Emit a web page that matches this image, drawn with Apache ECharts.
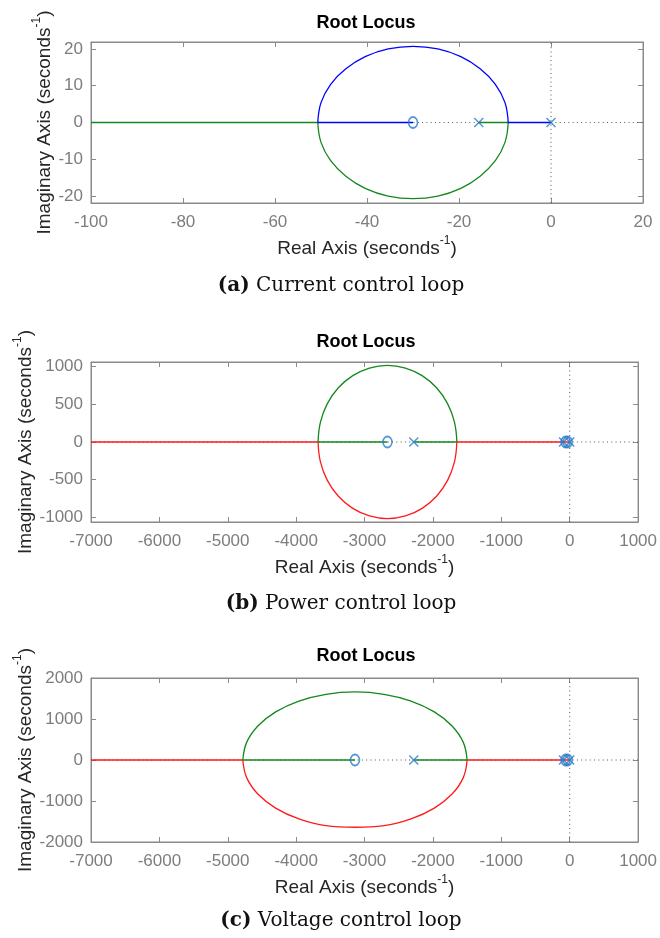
<!DOCTYPE html>
<html>
<head>
<meta charset="utf-8">
<title>Root Locus</title>
<script src="https://cdn.jsdelivr.net/npm/echarts@6/dist/echarts.min.js"></script>
<style>
    html, body { margin: 0; padding: 0; background: #fff; }
    #chart { width: 660px; height: 938px; }
</style>
</head>
<body>
<div id="chart"></div>
<script>
// ---- (a) current control loop ----
var xTicksA = [-100, -80, -60, -40, -20, 0, 20];
var yTicksA = [-20, -10, 0, 10, 20];
var polesA = [[0, 0], [-15.7, 0]];
var zerosA = [[-30, 0]];
var blueRealA = [[0, 0], [-9.3, 0]];
var blueArcA = [[-9.3, 0], [-10.0, 5.4], [-12.1, 10.4], [-15.4, 14.6], [-19.6, 17.9], [-24.6, 20.0], [-30, 20.7],
    [-35.4, 20.0], [-40.4, 17.9], [-44.6, 14.6], [-47.9, 10.4], [-50.0, 5.4], [-50.7, 0]];
var blueTailA = [[-50.7, 0], [-30, 0]];
var greenRealA = [[-15.7, 0], [-9.3, 0]];
var greenArcA = [[-9.3, 0], [-10.0, -5.4], [-12.1, -10.4], [-15.4, -14.6], [-19.6, -17.9], [-24.6, -20.0], [-30, -20.7],
    [-35.4, -20.0], [-40.4, -17.9], [-44.6, -14.6], [-47.9, -10.4], [-50.0, -5.4], [-50.7, 0]];
var greenTailA = [[-50.7, 0], [-100, 0]];

// ---- (b) power control loop ----
var xTicksB = [-7000, -6000, -5000, -4000, -3000, -2000, -1000, 0, 1000];
var yTicksB = [-1000, -500, 0, 500, 1000];
var polesB = [[0, 0], [-90, 0], [-2280, 0]];
var zerosB = [[-30, 0], [-60, 0], [-2665, 0]];
var greenRealB = [[-2280, 0], [-1650, 0]];
var greenArcB = [[-1650, 0], [-1685, 263], [-1786, 508], [-1947, 718], [-2158, 879], [-2402, 980], [-2665, 1015],
    [-2928, 980], [-3172, 879], [-3383, 718], [-3544, 508], [-3645, 263], [-3680, 0]];
var greenTailB = [[-3680, 0], [-2665, 0]];
var redRealB = [[0, 0], [-1650, 0]];
var redArcB = [[-1650, 0], [-1685, -263], [-1786, -508], [-1947, -718], [-2158, -879], [-2402, -980], [-2665, -1015],
    [-2928, -980], [-3172, -879], [-3383, -718], [-3544, -508], [-3645, -263], [-3680, 0]];
var redTailB = [[-3680, 0], [-7000, 0]];

// ---- (c) voltage control loop ----
var xTicksC = [-7000, -6000, -5000, -4000, -3000, -2000, -1000, 0, 1000];
var yTicksC = [-2000, -1000, 0, 1000, 2000];
var polesC = [[0, 0], [-90, 0], [-2280, 0]];
var zerosC = [[-30, 0], [-60, 0], [-3140, 0]];
var greenRealC = [[-2280, 0], [-1500, 0]];
var greenArcC = [[-1500, 0], [-1556, 430], [-1720, 830], [-1980, 1174], [-2320, 1438], [-2716, 1603], [-3140, 1660],
    [-3564, 1603], [-3960, 1438], [-4300, 1174], [-4560, 830], [-4724, 430], [-4780, 0]];
var greenTailC = [[-4780, 0], [-3140, 0]];
var redRealC = [[0, 0], [-1500, 0]];
var redArcC = [[-1500, 0], [-1556, -430], [-1720, -830], [-1980, -1174], [-2320, -1438], [-2716, -1603], [-3140, -1640],
    [-3564, -1603], [-3960, -1438], [-4300, -1174], [-4560, -830], [-4724, -430], [-4780, 0]];
var redTailC = [[-4780, 0], [-7000, 0]];

var FONT = '"Liberation Sans", Arial, Helvetica, sans-serif';
var SERIF = '"DejaVu Serif", Georgia, serif';
var BLUE = '#0000ff', GREEN = '#13881b', RED = '#ff1a1a', MARK = '#2a7cc9';
var FRAME = '#8a8a8a';

var panels = [
    {
        top: 42, height: 161, xMin: -100, xMax: 20, xStep: 20, xTicks: xTicksA,
        yMin: -21.9, yMax: 21.9, yStep: 10, yTicks: yTicksA, yNameGap: 33,
        poles: polesA, zeros: zerosA,
        lines: [
            [greenTailA, GREEN, false], [greenRealA, GREEN, false], [greenArcA, GREEN, true],
            [blueTailA, BLUE, false], [blueRealA, BLUE, false], [blueArcA, BLUE, true]
        ],
        title: 23, caption: 286, tag: '(a)', text: ' Current control loop'
    },
    {
        top: 362, height: 160, xMin: -7000, xMax: 1000, xStep: 1000, xTicks: xTicksB,
        yMin: -1060, yMax: 1060, yStep: 500, yTicks: yTicksB, yNameGap: 52,
        poles: polesB, zeros: zerosB,
        lines: [
            [redTailB, RED, false], [redRealB, RED, false], [redArcB, RED, true],
            [greenTailB, GREEN, false], [greenRealB, GREEN, false], [greenArcB, GREEN, true]
        ],
        title: 342, caption: 604, tag: '(b)', text: ' Power control loop'
    },
    {
        top: 678, height: 164, xMin: -7000, xMax: 1000, xStep: 1000, xTicks: xTicksC,
        yMin: -2000, yMax: 2000, yStep: 1000, yTicks: yTicksC, yNameGap: 52,
        poles: polesC, zeros: zerosC,
        lines: [
            [redTailC, RED, false], [redRealC, RED, false], [redArcC, RED, true],
            [greenTailC, GREEN, false], [greenRealC, GREEN, false], [greenArcC, GREEN, true]
        ],
        title: 656, caption: 921, tag: '(c)', text: ' Voltage control loop'
    }
];

var nameRich = {
    t: { fontFamily: FONT, fontSize: 19, color: '#262626', lineHeight: 27 },
    s: { fontFamily: FONT, fontSize: 12, color: '#262626', lineHeight: 12, verticalAlign: 'top' }
};

function tickFormatter(ticks) {
    return function (v) {
        for (var i = 0; i < ticks.length; i++) {
            if (Math.abs(ticks[i] - v) < 1e-6) return String(ticks[i]);
        }
        return '';
    };
}

function valueAxis(p, gi, dim, position, withLabel) {
    var isX = dim === 'x';
    var ax = {
        type: 'value',
        gridIndex: gi,
        position: position,
        min: isX ? p.xMin : p.yMin,
        max: isX ? p.xMax : p.yMax,
        axisLine: { show: true, onZero: false, lineStyle: { color: FRAME, width: 1 } },
        axisTick: { show: true, inside: true, length: 5, lineStyle: { color: FRAME } },
        splitLine: { show: false },
        axisLabel: {
            show: withLabel,
            margin: isX ? 11 : 8,
            color: '#7d7d7d',
            fontFamily: FONT,
            fontSize: 17,
            formatter: tickFormatter(isX ? p.xTicks : p.yTicks)
        }
    };
    var step = isX ? p.xStep : p.yStep;
    var min = isX ? p.xMin : p.yMin;
    if (Math.abs(min / step - Math.round(min / step)) < 1e-9) {
        ax.interval = step;
    } else {
        ax.minInterval = step;
        ax.maxInterval = step;
    }
    if (withLabel) {
        ax.nameLocation = 'middle';
        ax.nameMoveOverlap = false;
        ax.nameTextStyle = { rich: nameRich };
        if (isX) {
            ax.name = '{t|Real Axis (seconds}{s|-1}{t|)}';
            ax.nameGap = 32;
        } else {
            ax.name = '{t|Imaginary Axis (seconds}{s|-1}{t|)}';
            ax.nameGap = p.yNameGap;
            ax.nameRotate = 90;
        }
    }
    return ax;
}

var grids = [], xAxes = [], yAxes = [], series = [], graphics = [];

panels.forEach(function (p, gi) {
    grids.push({ left: 91, width: 552, top: p.top, height: p.height, show: true, borderColor: FRAME, borderWidth: 1 });
    xAxes.push(valueAxis(p, gi, 'x', 'bottom', true));
    xAxes.push(valueAxis(p, gi, 'x', 'top', false));
    yAxes.push(valueAxis(p, gi, 'y', 'left', true));
    yAxes.push(valueAxis(p, gi, 'y', 'right', false));

    var xi = gi * 2, yi = gi * 2;
    // dotted zero axes
    series.push({
        type: 'line', xAxisIndex: xi, yAxisIndex: yi, silent: true, symbol: 'none', z: 1,
        data: [[p.xMin, 0], [p.xMax, 0]],
        lineStyle: { color: '#555', width: 1, type: [1, 3.3] }
    });
    series.push({
        type: 'line', xAxisIndex: xi, yAxisIndex: yi, silent: true, symbol: 'none', z: 1,
        data: [[0, p.yMin], [0, p.yMax]],
        lineStyle: { color: '#555', width: 1, type: [1, 3.3] }
    });
    p.lines.forEach(function (l) {
        series.push({
            type: 'line', xAxisIndex: xi, yAxisIndex: yi, silent: true, symbol: 'none', z: 2,
            smooth: l[2] ? 0.4 : false,
            data: l[0],
            lineStyle: { color: l[1], width: 1.3 }
        });
    });
    series.push({
        type: 'scatter', xAxisIndex: xi, yAxisIndex: yi, silent: true, z: 3,
        symbol: 'path://M0,0L10,10M10,0L0,10', symbolSize: 9,
        data: p.poles,
        itemStyle: { color: 'transparent', borderColor: MARK, borderWidth: 1.5 }
    });
    series.push({
        type: 'scatter', xAxisIndex: xi, yAxisIndex: yi, silent: true, z: 3,
        symbol: 'circle', symbolSize: [9, 11],
        data: p.zeros,
        itemStyle: { color: 'rgba(255,255,255,0)', borderColor: MARK, borderWidth: 1.7 }
    });

    graphics.push({
        type: 'text', x: 366, y: p.title, silent: true,
        style: {
            text: 'Root Locus', font: 'bold 18px ' + FONT, fill: '#000',
            align: 'center', verticalAlign: 'middle', textAlign: 'center', textVerticalAlign: 'middle'
        }
    });
    graphics.push({
        type: 'text', x: 341, y: p.caption, silent: true,
        style: {
            text: '{b|' + p.tag + '}{n|' + p.text + '}',
            rich: {
                b: { fontFamily: SERIF, fontSize: 20, fontWeight: 'bold', fill: '#111' },
                n: { fontFamily: SERIF, fontSize: 20, fill: '#111' }
            },
            fill: '#111',
            align: 'center', verticalAlign: 'middle', textAlign: 'center', textVerticalAlign: 'middle'
        }
    });
});

var chart = echarts.init(document.getElementById('chart'), null, { renderer: 'canvas' });
chart.setOption({
    backgroundColor: '#fff',
    animation: false,
    grid: grids,
    xAxis: xAxes,
    yAxis: yAxes,
    series: series,
    graphic: graphics
});
</script>
</body>
</html>
